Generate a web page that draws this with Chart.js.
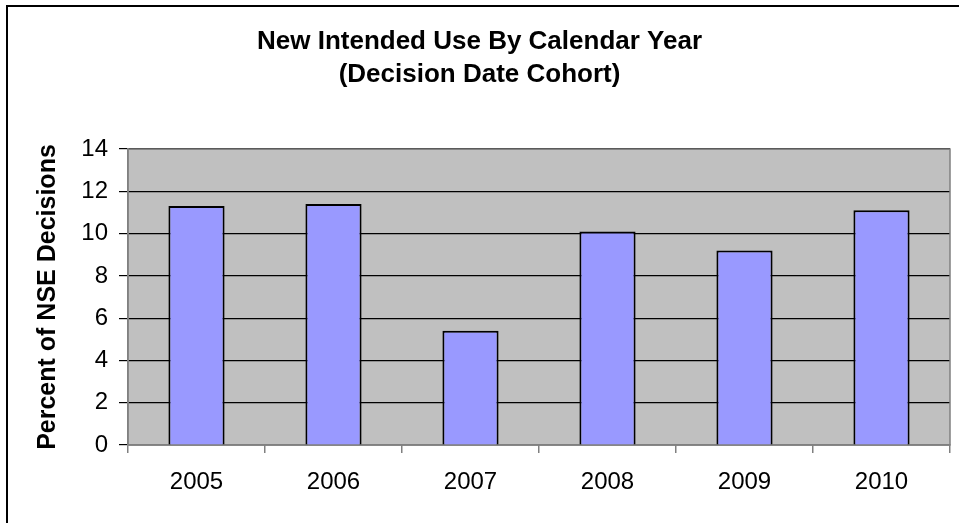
<!DOCTYPE html>
<html>
<head>
<meta charset="utf-8">
<script src="https://cdn.jsdelivr.net/npm/chart.js@4.4.0/dist/chart.umd.min.js"></script>
<style>
    html, body { margin: 0; padding: 0; background: #fff; overflow: hidden; }
    #wrap { width: 959px; height: 523px; position: relative; }
</style>
</head>
<body>
<div id="wrap"><canvas id="chart"></canvas></div>
<script>
// Chart data
const years = ['2005', '2006', '2007', '2008', '2009', '2010'];
const percents = [11.3, 11.4, 5.4, 10.1, 9.2, 11.1];
const yTicks = { min: 0, max: 14, step: 2 };

const FONT = '"Liberation Sans", Arial, sans-serif';

// Outer frame + grey plot area
const framePlugin = {
    id: 'frame',
    beforeDraw(chart) {
        const { ctx, chartArea: a } = chart;
        ctx.save();
        ctx.fillStyle = '#fff';
        ctx.fillRect(0, 0, chart.width, chart.height);
        ctx.strokeStyle = '#000';
        ctx.lineWidth = 2;
        ctx.strokeRect(7, 6, 1200, 1200);
        ctx.fillStyle = '#c0c0c0';
        ctx.fillRect(a.left, a.top, a.right - a.left, a.bottom - a.top);
        ctx.restore();
    },
    beforeDatasetsDraw(chart) {
        const { ctx, chartArea: a } = chart;
        ctx.save();
        ctx.strokeStyle = '#808080';
        ctx.lineWidth = 1.5;
        ctx.strokeRect(a.left, a.top, a.right - a.left, a.bottom - a.top);
        ctx.restore();
    }
};

new Chart(document.getElementById('chart'), {
    type: 'bar',
    data: {
        labels: years,
        datasets: [{
            data: percents,
            backgroundColor: '#9999ff',
            borderColor: '#000',
            borderWidth: 2,
            borderSkipped: 'bottom',
            barPercentage: 0.41,
            categoryPercentage: 1.0
        }]
    },
    options: {
        responsive: true,
        maintainAspectRatio: false,
        animation: false,
        layout: { padding: { left: 9, right: 9, top: 0, bottom: 0 } },
        plugins: {
            legend: { display: false },
            tooltip: { enabled: false },
            title: {
                display: true,
                text: ['New Intended Use By Calendar Year', '(Decision Date Cohort)'],
                color: '#000',
                font: { family: FONT, size: 26, weight: 'bold', lineHeight: 1.27 },
                padding: { top: 25, bottom: 58 }
            }
        },
        scales: {
            x: {
                grid: {
                    offset: true,
                    drawOnChartArea: false,
                    drawTicks: true,
                    tickLength: 8,
                    color: '#808080',
                    lineWidth: 1.5
                },
                border: { display: true, color: '#808080', width: 1.5 },
                ticks: {
                    color: '#000',
                    font: { family: FONT, size: 24 },
                    padding: 15,
                    maxRotation: 0
                },
                afterFit(scale) { scale.height = 78; }
            },
            y: {
                min: yTicks.min,
                max: yTicks.max,
                grid: {
                    color: '#000',
                    lineWidth: 1.2,
                    drawTicks: true,
                    tickLength: 9
                },
                border: { display: true, color: '#808080', width: 1.5 },
                ticks: {
                    stepSize: yTicks.step,
                    color: '#000',
                    font: { family: FONT, size: 24 },
                    padding: 11
                },
                title: {
                    display: true,
                    text: 'Percent of NSE Decisions',
                    color: '#000',
                    font: { family: FONT, size: 25, weight: 'bold' },
                    padding: { top: 24, bottom: 0 }
                },
                afterFit(scale) { scale.width = 119; }
            }
        }
    },
    plugins: [framePlugin]
});
</script>
</body>
</html>
